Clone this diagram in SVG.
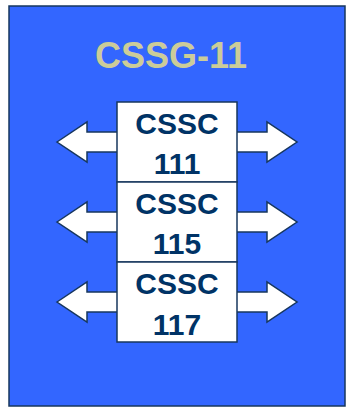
<svg xmlns="http://www.w3.org/2000/svg" width="346" height="410" viewBox="0 0 346 410">
<style>
.bg{fill:#3366FF;stroke:#17375E;stroke-width:1.5}
.arr{fill:#FFFFFF;stroke:#17375E;stroke-width:1.5;stroke-linejoin:miter}
.box{fill:#FFFFFF;stroke:#17375E;stroke-width:1.5}
.lbl{font-family:"Liberation Sans",Arial,sans-serif;font-weight:bold;font-size:30px;fill:#003366;text-anchor:middle}
.title{font-family:"Liberation Sans",Arial,sans-serif;font-weight:bold;font-size:36px;fill:#CCCC99;text-anchor:middle}
</style>
<defs>
<path id="dbl" d="M57,0 L87,-20 L87,-10 L267,-10 L267,-20 L297,0 L267,20 L267,10 L87,10 L87,20 Z"/>
</defs>
<rect class="bg" x="9" y="6" width="336" height="400"/>
<text class="title" x="171" y="68">CSSG-11</text>
<g id="connectors">
<use href="#dbl" class="arr" transform="translate(0,142)"/>
<use href="#dbl" class="arr" transform="translate(0,222)"/>
<use href="#dbl" class="arr" transform="translate(0,302)"/>
</g>
<g id="cssc111">
<rect class="box" x="117" y="102" width="120" height="80"/>
<text class="lbl" x="177" y="134">CSSC</text>
<text class="lbl" x="177" y="174">111</text>
</g>
<g id="cssc115">
<rect class="box" x="117" y="182" width="120" height="80"/>
<text class="lbl" x="177" y="214">CSSC</text>
<text class="lbl" x="177" y="254">115</text>
</g>
<g id="cssc117">
<rect class="box" x="117" y="262" width="120" height="80"/>
<text class="lbl" x="177" y="294">CSSC</text>
<text class="lbl" x="177" y="335">117</text>
</g>
</svg>
